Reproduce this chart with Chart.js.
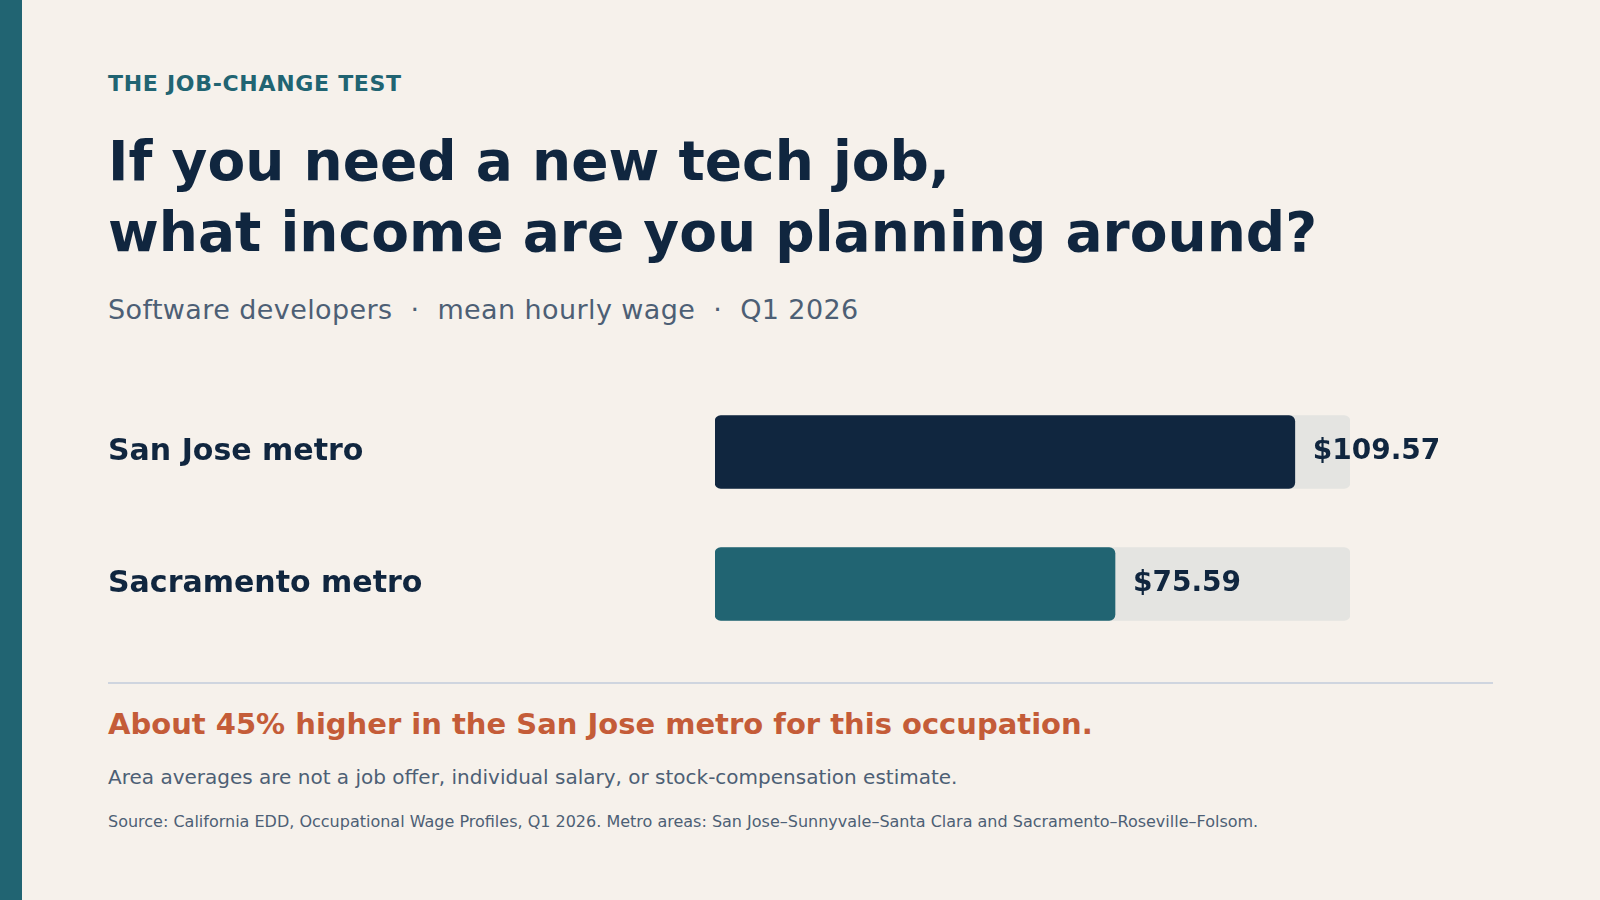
<!DOCTYPE html>
<html><head><meta charset="utf-8">
<script src="https://cdn.jsdelivr.net/npm/chart.js@4/dist/chart.umd.min.js"></script>
<style>
body{margin:0;width:1600px;height:900px;background:#f6f1eb;font-family:"DejaVu Sans",sans-serif;position:relative;overflow:hidden}
.stripe{position:absolute;left:0;top:0;width:22px;height:900px;background:#216472}
.t{position:absolute;left:108px;margin:0;white-space:nowrap}
#c{position:absolute;left:108px;top:368px}
</style></head><body>
<div class="stripe"></div>
<div class="t" style="top:71px;font-size:22px;font-weight:bold;color:#216472;letter-spacing:0.7px">THE JOB-CHANGE TEST</div>
<div class="t" style="top:126px;font-size:55px;font-weight:bold;color:#10263f;line-height:71px">If you need a new tech job,<br>what income are you planning around?</div>
<div class="t" style="top:294px;font-size:27px;color:#4d5f75;letter-spacing:0.4px">Software developers &nbsp;·&nbsp; mean hourly wage &nbsp;·&nbsp; Q1 2026</div>
<div style="position:absolute;left:108px;top:682px;width:1385px;height:2px;background:#cfd5df"></div>
<div class="t" style="top:707px;font-size:29px;font-weight:bold;color:#c45c38">About 45% higher in the San Jose metro for this occupation.</div>
<div class="t" style="top:765px;font-size:20px;color:#4d5f75">Area averages are not a job offer, individual salary, or stock-compensation estimate.</div>
<div class="t" style="top:812px;font-size:16px;color:#4d5f75">Source: California EDD, Occupational Wage Profiles, Q1 2026. Metro areas: San Jose–Sunnyvale–Santa Clara and Sacramento–Roseville–Folsom.</div>
<canvas id="c" width="1392" height="300"></canvas>
<script>
const categories = ['San Jose metro', 'Sacramento metro'];
const wages = [109.57, 75.59];
const scaleMax = 120;
const barColors = ['#10263f', '#216472'];

const valueLabels = {
  id: 'valueLabels',
  afterDatasetsDraw(chart) {
    const ctx = chart.ctx;
    const meta = chart.getDatasetMeta(0);
    ctx.save();
    ctx.font = 'bold 28px "DejaVu Sans"';
    ctx.fillStyle = '#10263f';
    ctx.textBaseline = 'middle';
    meta.data.forEach((bar, i) => {
      ctx.fillText('$' + wages[i].toFixed(2), bar.x + 18, bar.y);
    });
    ctx.restore();
  }
};

new Chart(document.getElementById('c'), {
  type: 'bar',
  data: {
    labels: categories,
    datasets: [
      { data: wages, backgroundColor: barColors, borderRadius: 6, borderSkipped: false, barThickness: 73, grouped: false, order: 0 },
      { data: categories.map(() => scaleMax), backgroundColor: '#e4e4e1', borderRadius: 6, borderSkipped: false, barThickness: 73, grouped: false, order: 1 }
    ]
  },
  options: {
    indexAxis: 'y',
    responsive: false,
    animation: false,
    layout: { padding: { right: 150, top: 0, bottom: 0, left: 0 } },
    plugins: { legend: { display: false }, tooltip: { enabled: false } },
    scales: {
      x: { display: false, min: 0, max: scaleMax },
      y: {
        grid: { display: false }, border: { display: false },
        ticks: { crossAlign: 'far', color: '#10263f', font: { size: 30, weight: 'bold', family: 'DejaVu Sans' }, padding: 0 },
        afterFit(s) { s.width = 607; }
      }
    }
  },
  plugins: [valueLabels]
});
</script>
</body></html>
